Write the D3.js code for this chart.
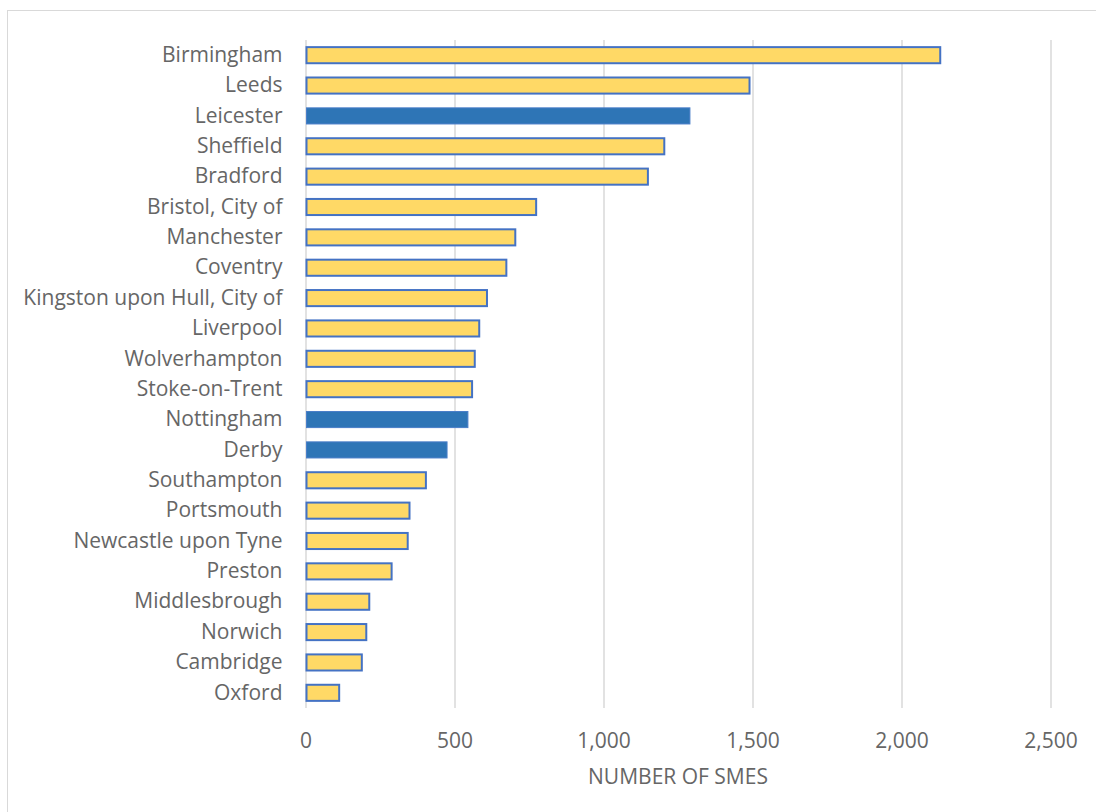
<!DOCTYPE html>
<html>
<head>
<meta charset="utf-8">
<script src="https://cdn.jsdelivr.net/npm/d3@7"></script>
<style>
  html, body { margin: 0; padding: 0; background: #fff; }
  svg { display: block; }
</style>
</head>
<body>
<script>
const categories = ["Birmingham","Leeds","Leicester","Sheffield","Bradford","Bristol, City of","Manchester","Coventry","Kingston upon Hull, City of","Liverpool","Wolverhampton","Stoke-on-Trent","Nottingham","Derby","Southampton","Portsmouth","Newcastle upon Tyne","Preston","Middlesbrough","Norwich","Cambridge","Oxford"];
const values = [2130,1490,1290,1204,1149,774,704,674,609,583,568,559,545,475,404,349,343,289,214,204,189,113];
const highlighted = ["Leicester","Nottingham","Derby"];
const xTicks = [0,500,1000,1500,2000,2500];
const xTitle = "NUMBER OF SMES";

const W = 1096, H = 812;
const m = {left: 305.5, right: 1050.5, top: 40, bottom: 708};
const textColor = "#666666";

const svg = d3.select("body").append("svg").attr("width", W).attr("height", H);

svg.append("rect").attr("x", 7.5).attr("y", 10.5).attr("width", W + 10).attr("height", H + 10)
  .attr("fill", "#fff").attr("stroke", "#D9D9D9").attr("stroke-width", 1);

const x = d3.scaleLinear().domain([0, 2500]).range([m.left, m.right]);
const y = d3.scaleBand().domain(categories).range([m.top, m.bottom]).paddingInner(0.47).paddingOuter(0.235);

// gridlines
const grid = svg.append("g")
  .attr("transform", `translate(0,${m.bottom})`)
  .call(d3.axisBottom(x).tickValues(xTicks).tickSize(-(m.bottom - m.top)).tickFormat(""));
grid.select(".domain").remove();
grid.selectAll("line").attr("stroke", "#D9D9D9").attr("stroke-width", 1.5);

// bars
const data = categories.map((c, i) => ({c, v: values[i]}));
svg.append("g").selectAll("rect").data(data).join("rect")
  .attr("x", x(0) + 1)
  .attr("y", d => y(d.c))
  .attr("width", d => x(d.v) - x(0) - 1)
  .attr("height", y.bandwidth())
  .attr("fill", d => highlighted.includes(d.c) ? "#2E75B6" : "#FFD966")
  .attr("stroke", d => highlighted.includes(d.c) ? "#4A7EC8" : "#4472C4")
  .attr("stroke-width", d => highlighted.includes(d.c) ? 1 : 2);

// x tick labels
const xa = svg.append("g")
  .attr("transform", `translate(0,${m.bottom})`)
  .call(d3.axisBottom(x).tickValues(xTicks).tickSize(0).tickPadding(0).tickFormat(d3.format(",")));
xa.select(".domain").remove();
xa.selectAll("text").attr("dy", null).attr("y", 40)
  .attr("font-family", "Open Sans").attr("font-size", 21).attr("fill", textColor);

// y labels
const ya = svg.append("g")
  .attr("transform", `translate(${m.left},0)`)
  .call(d3.axisLeft(y).tickSize(0).tickPadding(23));
ya.select(".domain").remove();
ya.selectAll("text").attr("font-family", "Open Sans").attr("font-size", 21).attr("fill", textColor);

svg.append("text").attr("x", (m.left + m.right) / 2).attr("y", 784)
  .attr("text-anchor", "middle").attr("font-family", "Open Sans").attr("font-size", 21)
  .attr("fill", textColor).text(xTitle);
</script>
</body>
</html>
